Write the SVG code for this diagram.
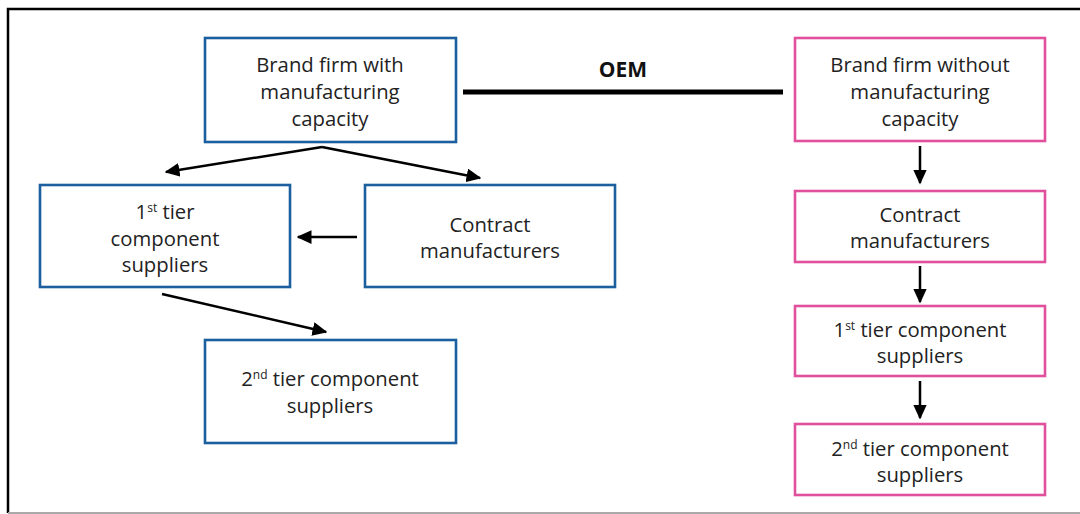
<svg xmlns="http://www.w3.org/2000/svg" width="1080" height="514" viewBox="0 0 1080 514">
<style>
.t{font-family:"Open Sans","Noto Sans","Liberation Sans",sans-serif;font-size:20.3px;fill:#222;text-anchor:middle}
.b{fill:#fff;stroke:#1b5f9f;stroke-width:2.6}
.p{fill:#fff;stroke:#e0509c;stroke-width:2.6}
.c{stroke:#000;stroke-width:2.5;fill:none}
.sup{font-size:12px}
</style>
<defs>
<marker id="ah" viewBox="0 0 10 10" refX="9" refY="5" markerWidth="6" markerHeight="5.5" markerUnits="strokeWidth" orient="auto" preserveAspectRatio="none">
<path d="M0,0 L10,5 L0,10 Z" fill="#000"/>
</marker>
</defs>
<rect x="0" y="0" width="1080" height="514" fill="#fff"/>
<path d="M8,513 L8,9 L1080,9" fill="none" stroke="#000" stroke-width="2.5"/>
<line x1="8" y1="513" x2="1080" y2="513" stroke="#aaa" stroke-width="2"/>

<g id="brand-with">
<rect class="b" x="205" y="38" width="251" height="104"/>
<text class="t" x="330" y="72">Brand firm with</text>
<text class="t" x="330" y="99">manufacturing</text>
<text class="t" x="330" y="126">capacity</text>
</g>
<g id="brand-without">
<rect class="p" x="795" y="38" width="250" height="103"/>
<text class="t" x="920" y="72">Brand firm without</text>
<text class="t" x="920" y="99">manufacturing</text>
<text class="t" x="920" y="126">capacity</text>
</g>
<g id="tier1-left">
<rect class="b" x="40" y="185" width="250" height="102"/>
<text class="t" x="165" y="219">1<tspan class="sup" dy="-7">st</tspan><tspan dy="7"> tier</tspan></text>
<text class="t" x="165" y="246">component</text>
<text class="t" x="165" y="272">suppliers</text>
</g>
<g id="contract-left">
<rect class="b" x="365" y="185" width="250" height="102"/>
<text class="t" x="490" y="232">Contract</text>
<text class="t" x="490" y="258">manufacturers</text>
</g>
<g id="tier2-left">
<rect class="b" x="205" y="340" width="251" height="103"/>
<text class="t" x="330" y="386">2<tspan class="sup" dy="-7">nd</tspan><tspan dy="7"> tier component</tspan></text>
<text class="t" x="330" y="413">suppliers</text>
</g>
<g id="contract-right">
<rect class="p" x="795" y="191" width="250" height="71"/>
<text class="t" x="920" y="222">Contract</text>
<text class="t" x="920" y="248">manufacturers</text>
</g>
<g id="tier1-right">
<rect class="p" x="795" y="306" width="250" height="70"/>
<text class="t" x="920" y="337">1<tspan class="sup" dy="-7">st</tspan><tspan dy="7"> tier component</tspan></text>
<text class="t" x="920" y="363">suppliers</text>
</g>
<g id="tier2-right">
<rect class="p" x="795" y="424" width="250" height="71"/>
<text class="t" x="920" y="456">2<tspan class="sup" dy="-7">nd</tspan><tspan dy="7"> tier component</tspan></text>
<text class="t" x="920" y="482">suppliers</text>
</g>

<g id="connectors">
<line x1="463" y1="92" x2="783" y2="92" stroke="#000" stroke-width="5"/>
<text x="623" y="77" style="font-family:'Open Sans','Noto Sans','Liberation Sans',sans-serif;font-size:21px;font-weight:bold;fill:#111;text-anchor:middle">OEM</text>
<line class="c" x1="322" y1="147" x2="166" y2="172" marker-end="url(#ah)"/>
<line class="c" x1="322" y1="147" x2="480" y2="178" marker-end="url(#ah)"/>
<line class="c" x1="357" y1="237" x2="298" y2="237" marker-end="url(#ah)"/>
<line class="c" x1="162" y1="294" x2="326" y2="332" marker-end="url(#ah)"/>
<line class="c" x1="920" y1="146" x2="920" y2="183" marker-end="url(#ah)"/>
<line class="c" x1="920" y1="266" x2="920" y2="302" marker-end="url(#ah)"/>
<line class="c" x1="920" y1="381" x2="920" y2="418" marker-end="url(#ah)"/>
</g>
</svg>
